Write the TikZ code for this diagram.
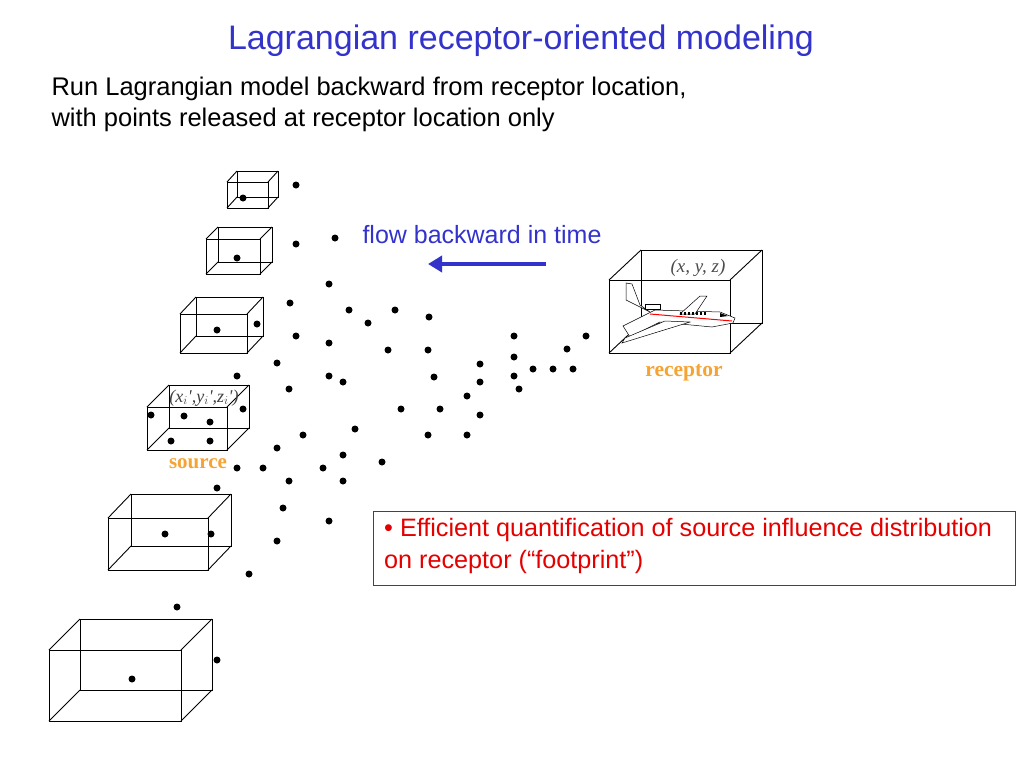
\documentclass[tikz,border=0pt]{standalone}
\usepackage{fontspec}
\setmainfont{Liberation Sans}
\newfontfamily\serifbox{Liberation Serif}
\usetikzlibrary{arrows.meta}
\newlength{\du}
\setlength{\du}{1pt}
\definecolor{titleblue}{rgb}{0.200000, 0.200000, 0.800000}
\definecolor{srcorange}{rgb}{0.960000, 0.640000, 0.200000}
\definecolor{notered}{rgb}{0.900000, 0.000000, 0.000000}
\tikzset{
  cell/.style={draw=black, line width=0.9\du},
  pt/.style={circle, fill=black, inner sep=0pt, minimum size=7\du},
}
% box: front x1,y1,x2,y2 ; back offset dx,dy
\newcommand{\cellbox}[6]{%
\draw[cell] (#1,#2) rectangle (#3,#4);
\draw[cell] (#1+#5,#2+#6) rectangle (#3+#5,#4+#6);
\draw[cell] (#1,#2)--(#1+#5,#2+#6);
\draw[cell] (#3,#2)--(#3+#5,#2+#6);
\draw[cell] (#1,#4)--(#1+#5,#4+#6);
\draw[cell] (#3,#4)--(#3+#5,#4+#6);
}
\begin{document}
\begin{tikzpicture}[x=1\du,y=-1\du]
\useasboundingbox (0,0) rectangle (1024,768);
\node[text=titleblue, font=\fontsize{34}{40}\selectfont] (title) at (521,41) {Lagrangian receptor-oriented modeling};
\node[anchor=north west, align=left, font=\fontsize{25.5}{31}\selectfont] (intro) at (48,73) {Run Lagrangian model backward from receptor location,\\with points released at receptor location only};
% source side cells
\cellbox{227}{182}{268}{208}{10}{-11}
\cellbox{206}{239}{260}{274}{12}{-12}
\cellbox{180}{314}{247}{353}{16}{-17}
\cellbox{147}{407}{227}{450}{22}{-22}
\cellbox{108}{518}{208}{570}{23}{-24}
\cellbox{49}{650}{181}{721}{31}{-31}
\node[font=\serifbox\itshape\fontsize{18}{20}\selectfont, text=black!75] (srcxyz) at (204,398) {(x$_i$',y$_i$',z$_i$')};
\node[font=\serifbox\bfseries\fontsize{21}{24}\selectfont, text=srcorange] (source) at (198,464) {source};
% receptor cell
\cellbox{609}{280}{730}{353}{32}{-30}
\node[font=\serifbox\itshape\fontsize{19}{22}\selectfont, text=black!70] (recxyz) at (698,268) {(x, y, z)};
\node[font=\serifbox\bfseries\fontsize{21.5}{24}\selectfont, text=srcorange] (receptor) at (684,373) {receptor};
% aeroplane
\begin{scope}[line width=0.5\du]
\draw[fill=white] (623,326)--(655,310)--(720,312)--(735,318)--(733,323)--(712,327)--(660,322)--(630,337)--cycle;
\draw[fill=white] (640,305)--(632,284)--(626,283)--(626,300)--(650,312)--cycle;
\draw[fill=white] (680,314)--(700,296)--(707,296)--(695,314)--cycle;
\draw[fill=white] (665,321)--(625,338)--(622,343)--(690,322)--cycle;
\draw[red, line width=1\du] (650,314)--(732,321);
\draw[fill=white] (645,309) rectangle (660,304);
\fill (720,313)--(728,316)--(720,317)--cycle;
\foreach \k in {0,...,6} \fill (680+\k*4,312) rectangle (682+\k*4,315);
\end{scope}
% flow arrow
\node[text=titleblue, font=\fontsize{25}{30}\selectfont] (flow) at (482,235) {flow backward in time};
\coordinate (flowtail) at (546,264);
\coordinate (flowhead) at (428,264);
\draw[titleblue, line width=3.5pt, -{Triangle[length=14pt,width=16pt]}] (flowtail)--(flowhead);
% particles
\foreach \p/\q in {243/198,237/258,217/330,257/324,151/415,184/416,210/422,171/441,210/441,165/534,211/534,132/679,
296/185,296/244,335/238,329/284,290/303,349/310,368/323,395/310,429/317,296/336,329/343,388/350,428/350,277/363,237/376,329/376,343/382,289/389,434/377,480/364,480/382,514/336,514/357,514/376,519/389,533/369,553/369,573/369,567/349,586/336,467/396,480/415,401/409,440/409,243/409,303/435,355/429,428/435,467/435,277/448,343/455,382/462,237/468,263/468,289/481,323/468,343/481,217/488,283/508,329/521,277/541,249/574,177/607,217/660}
  \node[pt] at (\p,\q) {};
% note
\draw[notered, line width=0.8pt] (373,511) rectangle (1015,585);
\node[text=notered, anchor=north west, align=left, inner sep=0pt, font=\fontsize{25.2}{32}\selectfont] (note) at (384,518) {\textbullet{} Efficient quantification of source influence distribution\\on receptor (“footprint”)};
\end{tikzpicture}
\end{document}
